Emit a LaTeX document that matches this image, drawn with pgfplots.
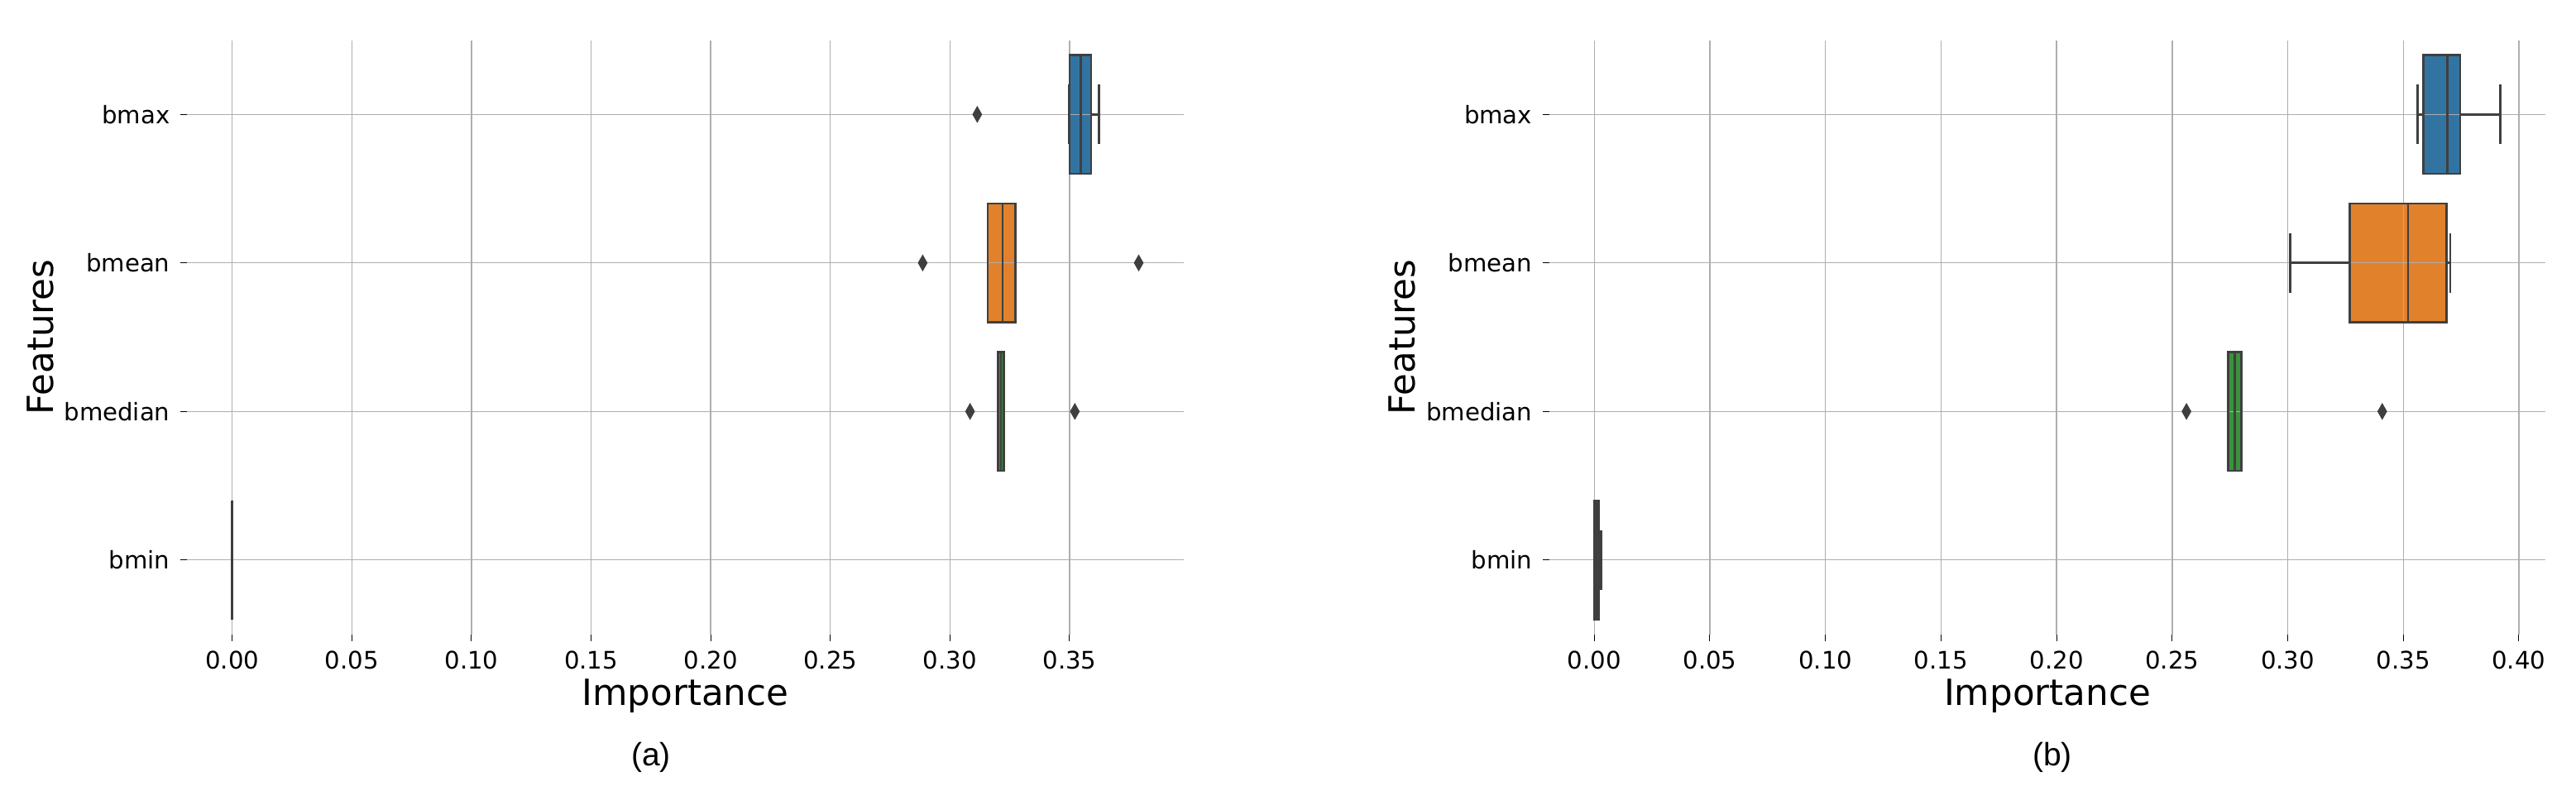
\documentclass[border=0pt]{standalone}
\usepackage{fontspec}
\setmainfont{DejaVu Sans}
\newfontfamily\capfont{Liberation Sans}
\usepackage{pgfplots}
\pgfplotsset{compat=1.18}
\usepgfplotslibrary{statistics}

\definecolor{sbblue}{HTML}{3274A1}
\definecolor{sborange}{HTML}{E1812C}
\definecolor{sbgreen}{HTML}{3A923A}
\definecolor{sbred}{HTML}{C03D3E}
\definecolor{edge}{HTML}{3F3F3F}
\definecolor{gridgray}{HTML}{AEAEAE}

\pgfplotsset{
  impbox/.style={
    scale only axis, height=71.8mm,
    ymin=-0.5, ymax=3.5, y dir=reverse,
    ytick={0,1,2,3}, yticklabels={bmax,bmean,bmedian,bmin},
    grid=major, major grid style={draw=gridgray, line width=0.14mm},
    axis line style={draw=none},
    tick align=outside, xtick pos=left, ytick pos=left,
    major tick length=0.8mm,
    tick style={draw=black, line width=0.1mm},
    tick label style={font=\fontsize{8.3}{10}\selectfont},
    /pgf/number format/assume math mode=true,
    xticklabel style={/pgf/number format/fixed, /pgf/number format/fixed zerofill,
      /pgf/number format/precision=2},
    label style={font=\fontsize{12.4}{15}\selectfont},
    xlabel={Importance}, ylabel={Features},
    xlabel style={at={(axis description cs:0.5,-0.12006)}, anchor=base},
    boxplot/draw direction=x,
    boxplot/box extend=0.8, boxplot/whisker extend=0.4,
  },
  % box fill only
  bxfill/.style={draw=none, solid,
    boxplot/every whisker/.style={draw=none},
    boxplot/every median/.style={draw=none}},
  % edges, whiskers and medians
  bxedge/.style={draw=edge, fill=none, line width=0.27mm, solid,
    boxplot/every whisker/.style={draw=edge, line width=0.27mm},
    boxplot/every median/.style={draw=edge, line width=0.27mm}},
  gridseg/.style={draw=gridgray, line width=0.14mm, no marks},
  outl/.style={only marks, mark=diamond*, mark size=0.93mm,
    mark options={draw=edge, fill=edge, xscale=0.76, line width=0.1mm}},
}

\begin{document}
\begin{tikzpicture}
\useasboundingbox (0,0) rectangle (311.4mm,95.5mm);

% (a)
\begin{axis}[impbox, at={(22.58mm,18.85mm)}, anchor=south west,
  width=120.54mm, xmin=-0.019, xmax=0.3978,
  xtick={0,0.05,0.1,0.15,0.2,0.25,0.3,0.35},
  ylabel style={at={(axis description cs:-0.1341,0.5)}, anchor=base}]
  \addplot[boxplot prepared={draw position=0, lower whisker=0.3497, lower quartile=0.3500,
    median=0.3547, upper quartile=0.3590, upper whisker=0.3623}, bxfill, fill=sbblue] coordinates {};
  \addplot[boxplot prepared={draw position=1, lower whisker=0.3158, lower quartile=0.3158,
    median=0.3220, upper quartile=0.3274, upper whisker=0.3274}, bxfill, fill=sborange] coordinates {};
  \addplot[boxplot prepared={draw position=2, lower whisker=0.3200, lower quartile=0.3200,
    median=0.3213, upper quartile=0.3226, upper whisker=0.3226}, bxfill, fill=sbgreen] coordinates {};
  \addplot[gridseg] coordinates {(0.3500,0) (0.3590,0)};
  \addplot[gridseg] coordinates {(0.3158,1) (0.3274,1)};
  \addplot[boxplot prepared={draw position=0, lower whisker=0.3497, lower quartile=0.3500,
    median=0.3547, upper quartile=0.3590, upper whisker=0.3623}, bxedge] coordinates {};
  \addplot[boxplot prepared={draw position=1, lower whisker=0.3158, lower quartile=0.3158,
    median=0.3220, upper quartile=0.3274, upper whisker=0.3274}, bxedge] coordinates {};
  \addplot[boxplot prepared={draw position=2, lower whisker=0.3200, lower quartile=0.3200,
    median=0.3213, upper quartile=0.3226, upper whisker=0.3226}, bxedge] coordinates {};
  \addplot[boxplot prepared={draw position=3, lower whisker=0, lower quartile=0,
    median=0, upper quartile=0, upper whisker=0}, bxedge, line width=0.2mm] coordinates {};
  \addplot[outl] coordinates {(0.3114,0) (0.2886,1) (0.3789,1) (0.3084,2) (0.3522,2)};
\end{axis}

% (b)
\begin{axis}[impbox, at={(187.25mm,18.85mm)}, anchor=south west,
  width=120.48mm, xmin=-0.0196, xmax=0.4116,
  xtick={0,0.05,0.1,0.15,0.2,0.25,0.3,0.35,0.4},
  ylabel style={at={(axis description cs:-0.1342,0.5)}, anchor=base}]
  \addplot[boxplot prepared={draw position=0, lower whisker=0.3561, lower quartile=0.3586,
    median=0.3690, upper quartile=0.3746, upper whisker=0.3920}, bxfill, fill=sbblue] coordinates {};
  \addplot[boxplot prepared={draw position=1, lower whisker=0.3010, lower quartile=0.3269,
    median=0.3521, upper quartile=0.3688, upper whisker=0.3703}, bxfill, fill=sborange] coordinates {};
  \addplot[boxplot prepared={draw position=2, lower whisker=0.2743, lower quartile=0.2743,
    median=0.2771, upper quartile=0.2799, upper whisker=0.2799}, bxfill, fill=sbgreen] coordinates {};
  \addplot[boxplot prepared={draw position=3, lower whisker=0, lower quartile=0,
    median=0.0007, upper quartile=0.0019, upper whisker=0.0029}, bxfill, fill=sbred] coordinates {};
  \addplot[gridseg] coordinates {(0.3586,0) (0.3746,0)};
  \addplot[gridseg] coordinates {(0.3269,1) (0.3688,1)};
  \addplot[gridseg] coordinates {(0.35,0.6) (0.35,1.4)};
  \addplot[gridseg] coordinates {(0.2743,2) (0.2799,2)};
  \addplot[boxplot prepared={draw position=0, lower whisker=0.3561, lower quartile=0.3586,
    median=0.3690, upper quartile=0.3746, upper whisker=0.3920}, bxedge] coordinates {};
  \addplot[boxplot prepared={draw position=1, lower whisker=0.3010, lower quartile=0.3269,
    median=0.3521, upper quartile=0.3688, upper whisker=0.3703}, bxedge] coordinates {};
  \addplot[boxplot prepared={draw position=2, lower whisker=0.2743, lower quartile=0.2743,
    median=0.2771, upper quartile=0.2799, upper whisker=0.2799}, bxedge] coordinates {};
  \addplot[boxplot prepared={draw position=3, lower whisker=0, lower quartile=0,
    median=0.0007, upper quartile=0.0019, upper whisker=0.0029}, bxedge] coordinates {};
  \addplot[outl] coordinates {(0.2562,2) (0.3409,2)};
\end{axis}

\node[anchor=base, font=\capfont\fontsize{11.1}{13}\selectfont] at (78.7mm,3.0mm) {(a)};
\node[anchor=base, font=\capfont\fontsize{11.1}{13}\selectfont] at (248.1mm,3.0mm) {(b)};
\end{tikzpicture}
\end{document}
